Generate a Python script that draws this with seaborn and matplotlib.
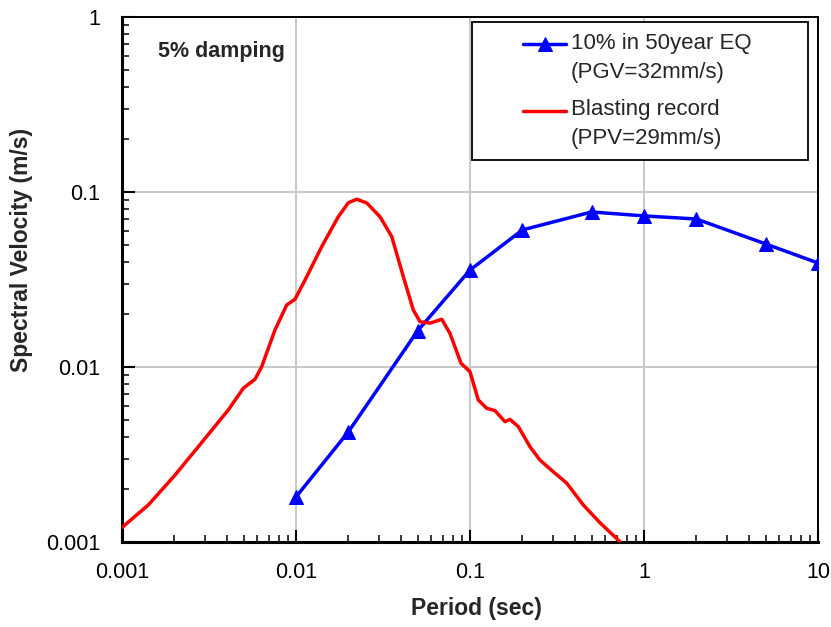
import matplotlib
matplotlib.use("Agg")
import matplotlib.pyplot as plt
import seaborn as sns
import pandas as pd
import numpy as np
from matplotlib.patches import Rectangle
from matplotlib.ticker import LogLocator, FuncFormatter, NullFormatter

# ---- data ----
eq_period = [0.01, 0.02, 0.05, 0.1, 0.2, 0.5, 1, 2, 5, 10]
eq_sv = [0.00181, 0.00426, 0.0161, 0.0358, 0.0607, 0.0769, 0.0730, 0.0701, 0.0505, 0.0393]

blast_period = [0.001, 0.001416, 0.002017, 0.002745, 0.00408, 0.00498, 0.00581, 0.00635,
                0.00757, 0.00884, 0.00987, 0.01127, 0.01405, 0.0175, 0.0200, 0.02233,
                0.0255, 0.0304, 0.0355, 0.0414, 0.0472, 0.0516, 0.0589, 0.0688, 0.0767,
                0.0888, 0.100, 0.1116, 0.1247, 0.1392, 0.1589, 0.1698, 0.1896, 0.2213,
                0.2524, 0.301, 0.3595, 0.448, 0.558, 0.721, 0.76]
blast_sv = [0.00121, 0.001627, 0.002413, 0.003504, 0.00568, 0.00756, 0.00851, 0.01004,
            0.01627, 0.0226, 0.0244, 0.0314, 0.0487, 0.0722, 0.0869, 0.0909,
            0.0866, 0.0722, 0.0556, 0.0328, 0.0212, 0.01815, 0.0178, 0.01874, 0.01558,
            0.0105, 0.0094, 0.00648, 0.00581, 0.00563, 0.00487, 0.00502, 0.00456, 0.0035,
            0.00294, 0.00252, 0.00217, 0.001627, 0.00129, 0.001013, 0.00096]

eq_label = "10% in 50year EQ\n(PGV=32mm/s)"
blast_label = "Blasting record\n(PPV=29mm/s)"
x_label = "Period (sec)"
y_label = "Spectral Velocity (m/s)"
note = "5% damping"

eq_df = pd.DataFrame({"Period": eq_period, "SV": eq_sv})
bl_df = pd.DataFrame({"Period": blast_period, "SV": blast_sv})

sns.set_style("white")
plt.rcParams["font.family"] = ["Liberation Sans", "DejaVu Sans"]

W, H = 831, 627
fig = plt.figure(figsize=(W / 100, H / 100), dpi=100)
ax = fig.add_axes([122 / W, 1 - 542 / H, (818 - 122) / W, (542 - 17) / H])

sns.lineplot(data=eq_df, x="Period", y="SV", ax=ax, color="#0000FF", lw=2.5,
             marker="^", markersize=10, markeredgecolor="#0000FF", label=eq_label,
             zorder=3)
sns.lineplot(data=bl_df, x="Period", y="SV", ax=ax, color="#FF0000", lw=2.5,
             label=blast_label, zorder=3)

ax.set_xscale("log")
ax.set_yscale("log")
ax.set_xlim(0.001, 10)
ax.set_ylim(0.001, 1)

fmt = FuncFormatter(lambda v, p: "%g" % v)
ax.xaxis.set_major_formatter(fmt)
ax.yaxis.set_major_formatter(fmt)
ax.xaxis.set_minor_locator(LogLocator(base=10, subs=range(2, 10), numticks=20))
ax.yaxis.set_minor_locator(LogLocator(base=10, subs=range(2, 10), numticks=20))
ax.xaxis.set_minor_formatter(NullFormatter())
ax.yaxis.set_minor_formatter(NullFormatter())

tick_fs = 15.5
ax.tick_params(which="major", direction="in", length=9, width=1.5, labelsize=tick_fs,
               bottom=True, left=True, top=False, right=False, colors="black")
ax.tick_params(axis="x", which="major", pad=14.5)
ax.tick_params(axis="y", which="major", pad=15.5)
ax.tick_params(which="minor", direction="in", length=5, width=1.3,
               bottom=True, left=True, top=False, right=False)

ax.grid(which="major", color="#c8c8c8", lw=1.4)
ax.set_axisbelow(True)

for s in ["left", "bottom"]:
    ax.spines[s].set_linewidth(2.2)
    ax.spines[s].set_color("black")
for s in ["top", "right"]:
    ax.spines[s].set_linewidth(1.4)
    ax.spines[s].set_color("black")

ax.set_xlabel(x_label, fontsize=16.5, fontweight="bold")
ax.set_ylabel(y_label, fontsize=16.5, fontweight="bold")
ax.xaxis.label.set_va("center")
ax.yaxis.label.set_va("center")
ax.xaxis.set_label_coords((476 - 122) / 696, (542 - 609) / 525)
ax.yaxis.set_label_coords((22 - 122) / 696, (542 - 250) / 525)

ax.text((158 - 122) / 696, (542 - 52) / 525, note, transform=ax.transAxes,
        fontsize=15.5, fontweight="bold", ha="left", va="center")

# legend box (frame drawn separately, as in the source chart)
lx0, lx1, ly0, ly1 = 472, 808, 22, 160
ax.add_patch(Rectangle(((lx0 - 122) / 696, (542 - ly1) / 525),
                       (lx1 - lx0) / 696, (ly1 - ly0) / 525,
                       transform=ax.transAxes, fill=True, facecolor="white",
                       edgecolor="black", lw=1.3, zorder=5))
leg_fs = 16
line_sp = 1.5
leg = ax.legend(loc="center",
                bbox_to_anchor=(((lx0 + lx1) / 2 - 122) / 696 - 0.004,
                                (542 - (ly0 + ly1) / 2) / 525),
                fontsize=leg_fs, frameon=False, handlelength=1.95,
                labelspacing=0.75, borderpad=0.0, handletextpad=0.2)
leg.set_zorder(6)
for t in leg.get_texts():
    t.set_linespacing(line_sp)
for h in leg.legend_handles:
    h.set_ydata(np.asarray(h.get_ydata()) + 0.61 * leg_fs)

fig.savefig("out.png", dpi=100)
